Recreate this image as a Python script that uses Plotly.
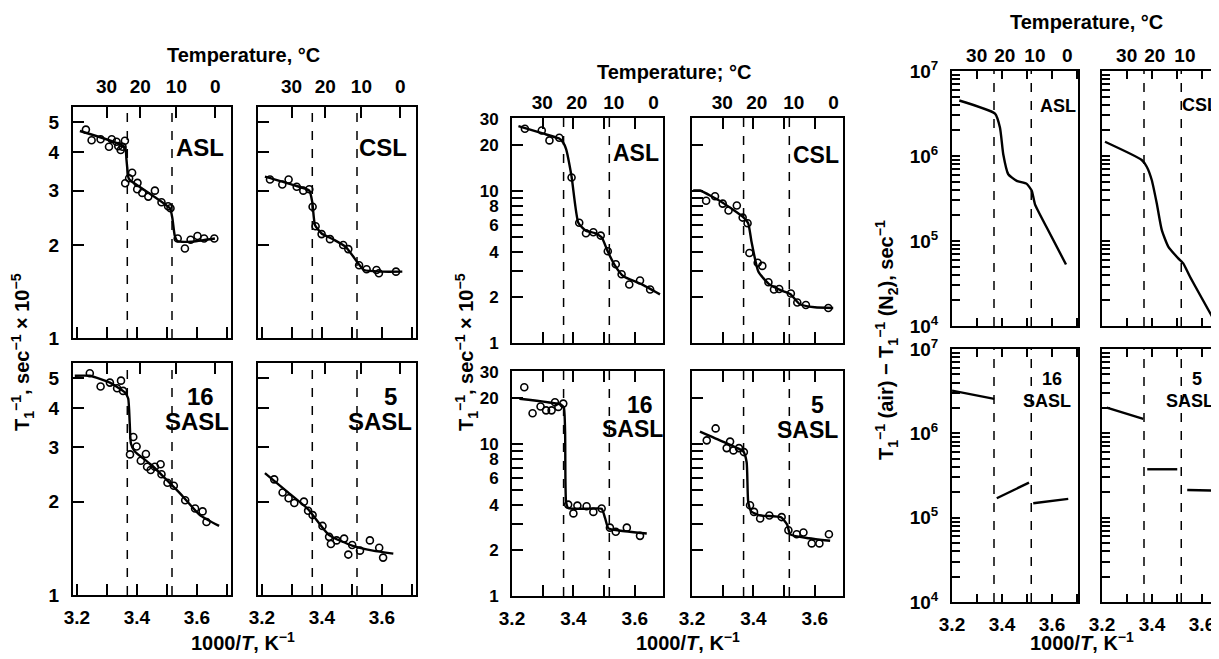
import plotly.graph_objects as go

# the page adds an 8 px body margin, so the figure is drawn 8 px smaller and positions are
# given in page pixels minus that offset
PAGE_W, PAGE_H, OFF = 1219, 659, 8
W, H = PAGE_W - OFF, PAGE_H - OFF
FONT = "Liberation Sans"

# phase transitions, 1000/T (K^-1), drawn as dashed lines
TRANSITIONS = [3.368, 3.517]
# labels of the temperature axis on top, deg C
TEMPS_C = [30, 20, 10, 0]

# ---- left block: T1^-1 (air), sec^-1 x 10^-5 ----
ASL1_PX = [3.230, 3.249, 3.279, 3.307, 3.316, 3.332, 3.338, 3.346, 3.352, 3.360, 3.361, 3.374,
           3.384, 3.402, 3.401, 3.418, 3.438, 3.460, 3.482, 3.504, 3.512, 3.536, 3.560, 3.579,
           3.602, 3.624, 3.658]
ASL1_PY = [4.73, 4.37, 4.40, 4.16, 4.40, 4.32, 4.18, 4.06, 4.16, 4.35, 3.17, 3.29,
           3.43, 3.18, 3.03, 2.95, 2.87, 3.00, 2.75, 2.67, 2.63, 2.10, 1.95, 2.08,
           2.14, 2.10, 2.10]
ASL1_FX = [3.21, 3.36, 3.365, 3.372, 3.378, 3.51, 3.518, 3.526, 3.535, 3.58, 3.66]
ASL1_FY = [4.68, 4.15, 3.80, 3.30, 3.24, 2.63, 2.45, 2.15, 2.06, 2.05, 2.10]

CSL1_PX = [3.227, 3.268, 3.289, 3.316, 3.338, 3.358, 3.369, 3.379, 3.399, 3.427, 3.471, 3.488,
           3.524, 3.549, 3.582, 3.590, 3.647]
CSL1_PY = [3.26, 3.14, 3.26, 3.09, 3.00, 3.03, 2.66, 2.30, 2.17, 2.09, 2.00, 1.94,
           1.72, 1.67, 1.66, 1.62, 1.64]
CSL1_FX = [3.21, 3.30, 3.358, 3.368, 3.377, 3.399, 3.44, 3.48, 3.52, 3.54, 3.60, 3.668]
CSL1_FY = [3.33, 3.14, 3.00, 2.75, 2.32, 2.18, 2.08, 1.97, 1.75, 1.66, 1.64, 1.64]

SASL16_1_PX = [3.243, 3.279, 3.310, 3.334, 3.347, 3.354, 3.377, 3.388, 3.399, 3.413, 3.430,
               3.434, 3.446, 3.460, 3.479, 3.482, 3.502, 3.523, 3.561, 3.594, 3.619, 3.632]
SASL16_1_PY = [5.19, 4.70, 4.84, 4.64, 4.91, 4.55, 2.84, 3.23, 3.01, 2.71, 2.85,
               2.59, 2.53, 2.59, 2.64, 2.45, 2.30, 2.25, 2.02, 1.90, 1.86, 1.72]
SASL16_1_FX = [3.193, 3.243, 3.31, 3.36, 3.371, 3.376, 3.38, 3.393, 3.45, 3.499, 3.543, 3.61, 3.674]
SASL16_1_FY = [5.09, 5.09, 4.84, 4.50, 4.30, 3.60, 3.08, 2.90, 2.62, 2.35, 2.13, 1.81, 1.67]

SASL5_1_PX = [3.241, 3.269, 3.289, 3.308, 3.340, 3.354, 3.369, 3.402, 3.424, 3.430, 3.449,
              3.474, 3.488, 3.501, 3.527, 3.560, 3.591, 3.604]
SASL5_1_PY = [2.36, 2.14, 2.05, 1.98, 2.00, 1.87, 1.81, 1.67, 1.54, 1.46, 1.50,
              1.52, 1.35, 1.45, 1.39, 1.50, 1.42, 1.32]
SASL5_1_FX = [3.21, 3.28, 3.354, 3.424, 3.503, 3.57, 3.638]
SASL5_1_FY = [2.47, 2.17, 1.89, 1.56, 1.44, 1.39, 1.36]

# ---- middle block: T1^-1 (N2), sec^-1 x 10^-5 ----
ASL2_PX = [3.242, 3.297, 3.322, 3.354, 3.394, 3.419, 3.441, 3.465, 3.489, 3.512, 3.538, 3.557,
           3.582, 3.617, 3.650]
ASL2_PY = [25.8, 25.1, 21.6, 22.5, 12.3, 6.2, 5.28, 5.36, 5.10, 4.02, 3.30, 2.84,
           2.43, 2.58, 2.25]
ASL2_FX = [3.221, 3.30, 3.354, 3.366, 3.376, 3.394, 3.416, 3.44, 3.47, 3.492, 3.512, 3.535, 3.563, 3.62, 3.682]
ASL2_FY = [26.8, 24.0, 22.2, 21.0, 19.0, 12.5, 6.2, 5.5, 5.3, 4.97, 4.0, 3.25, 2.75, 2.45, 2.09]

CSL2_PX = [3.246, 3.275, 3.300, 3.319, 3.346, 3.365, 3.381, 3.387, 3.414, 3.429, 3.449, 3.467,
           3.484, 3.522, 3.543, 3.571, 3.644]
CSL2_PY = [8.65, 9.25, 8.28, 7.46, 8.04, 6.70, 6.15, 3.92, 3.38, 3.22, 2.51, 2.25,
           2.27, 2.12, 1.85, 1.78, 1.70]
CSL2_FX = [3.204, 3.226, 3.30, 3.365, 3.383, 3.394, 3.416, 3.45, 3.49, 3.52, 3.551, 3.60, 3.66]
CSL2_FY = [10.1, 10.1, 8.4, 6.8, 6.15, 4.62, 2.96, 2.45, 2.22, 2.10, 1.80, 1.72, 1.70]

SASL16_2_PX = [3.240, 3.267, 3.293, 3.311, 3.329, 3.340, 3.351, 3.367, 3.383, 3.400, 3.413,
               3.443, 3.465, 3.492, 3.519, 3.538, 3.574, 3.617]
SASL16_2_PY = [23.7, 16.0, 17.7, 16.7, 16.7, 18.9, 17.6, 18.5, 4.00, 3.50, 3.94,
               3.90, 3.58, 3.77, 2.82, 2.65, 2.82, 2.49]
SASL16_2_FX = [3.224, 3.36, 3.369, 3.373, 3.376, 3.383, 3.45, 3.492, 3.503, 3.514, 3.55, 3.639]
SASL16_2_FY = [19.9, 18.2, 17.4, 12.0, 4.20, 3.80, 3.76, 3.75, 3.27, 2.79, 2.70, 2.58]

SASL5_2_PX = [3.248, 3.277, 3.313, 3.324, 3.335, 3.353, 3.369, 3.389, 3.402, 3.422, 3.452,
              3.492, 3.514, 3.541, 3.563, 3.590, 3.615, 3.646]
SASL5_2_PY = [10.6, 12.7, 9.42, 10.4, 9.10, 9.42, 8.87, 3.96, 3.58, 3.24, 3.39,
              3.31, 2.71, 2.55, 2.62, 2.22, 2.22, 2.55]
SASL5_2_FX = [3.226, 3.30, 3.367, 3.378, 3.383, 3.393, 3.42, 3.49, 3.51, 3.52, 3.58, 3.65]
SASL5_2_FY = [12.1, 10.4, 8.97, 7.6, 4.2, 3.6, 3.4, 3.3, 2.95, 2.55, 2.40, 2.31]

# ---- right block: T1^-1 (air) - T1^-1 (N2), sec^-1 (None = break in the line) ----
ASL3_X = [3.229, 3.372, 3.392, 3.405, 3.425, 3.459, 3.499, 3.519, 3.532, 3.579, 3.656]
ASL3_Y = [4.5e6, 3.15e6, 2.15e6, 1.05e6, 6.1e5, 5.1e5, 4.7e5, 3.9e5, 2.7e5, 1.44e5, 5.3e4]

CSL3_X = [3.212, 3.359, 3.379, 3.399, 3.419, 3.439, 3.465, 3.505, 3.525, 3.552, 3.652]
CSL3_Y = [1.47e6, 8.97e5, 7.48e5, 5.22e5, 2.78e5, 1.35e5, 8.6e4, 6.25e4, 5.46e4, 3.8e4, 1.12e4]

SASL16_3_X = [3.200, 3.369, None, 3.379, 3.508, None, 3.525, 3.665]
SASL16_3_Y = [3.21e6, 2.56e6, None, 1.70e5, 2.60e5, None, 1.48e5, 1.67e5]

SASL5_3_X = [3.219, 3.365, None, 3.381, 3.501, None, 3.541, 3.668]
SASL5_3_Y = [2.02e6, 1.48e6, None, 3.75e5, 3.75e5, None, 2.13e5, 2.09e5]

# block geometry in page pixels: column x-extents, row y-extents, 1000/T at left edge, px per unit
BLOCKS = {
    1: dict(cols=[(73, 231), (258, 416)], rows=[(107, 338), (363, 595)], x0=3.187, scale=300,
            yr=[[0, 0.748], [0, 0.748]], ticklen=11, yfont=19),
    2: dict(cols=[(512, 663), (692, 843)], rows=[(118, 343), (371, 596)], x0=3.2, scale=307,
            yr=[[0, 1.482], [0, 1.482]], ticklen=11, yfont=17),
    3: dict(cols=[(952, 1078), (1102, 1219)], rows=[(71, 326), (349, 602)], x0=3.2, scale=250,
            yr=[[4, 7], [4, 7]], ticklen=8, yfont=19),
}

# (block, col, row, points x, points y, line x, line y)
PANELS = [
    (1, 0, 0, ASL1_PX, ASL1_PY, ASL1_FX, ASL1_FY),
    (1, 1, 0, CSL1_PX, CSL1_PY, CSL1_FX, CSL1_FY),
    (1, 0, 1, SASL16_1_PX, SASL16_1_PY, SASL16_1_FX, SASL16_1_FY),
    (1, 1, 1, SASL5_1_PX, SASL5_1_PY, SASL5_1_FX, SASL5_1_FY),
    (2, 0, 0, ASL2_PX, ASL2_PY, ASL2_FX, ASL2_FY),
    (2, 1, 0, CSL2_PX, CSL2_PY, CSL2_FX, CSL2_FY),
    (2, 0, 1, SASL16_2_PX, SASL16_2_PY, SASL16_2_FX, SASL16_2_FY),
    (2, 1, 1, SASL5_2_PX, SASL5_2_PY, SASL5_2_FX, SASL5_2_FY),
    (3, 0, 0, None, None, ASL3_X, ASL3_Y),
    (3, 1, 0, None, None, CSL3_X, CSL3_Y),
    (3, 0, 1, None, None, SASL16_3_X, SASL16_3_Y),
    (3, 1, 1, None, None, SASL5_3_X, SASL5_3_Y),
]

Y_TICKS = {
    1: ([1, 2, 3, 4, 5], ['1', '2', '3', '4', '5']),
    2: ([1, 2, 3, 4, 5, 6, 7, 8, 9, 10, 20, 30],
        ['1', '2', '', '4', '', '6', '', '8', '', '10', '20', '30']),
    3: ([m * 10 ** k for k in (4, 5, 6) for m in range(1, 10)] + [1e7],
        [('10<sup>%d</sup>' % k if m == 1 else '') for k in (4, 5, 6) for m in range(1, 10)]
        + ['10<sup>7</sup>']),
}

# panel labels: (text, x px, y px, size)
LABELS = [
    ('ASL', 200, 147, 24), ('CSL', 383, 147, 24),
    ('16', 200, 396, 24), ('SASL', 197, 421, 24), ('5', 390, 396, 24), ('SASL', 380, 421, 24),
    ('ASL', 636, 153, 23), ('CSL', 816, 155, 23),
    ('16', 640, 405, 23), ('SASL', 632, 429, 23), ('5', 817, 405, 23), ('SASL', 807, 430, 23),
    ('ASL', 1058, 106, 18), ('CSL', 1200, 105, 18),
    ('16', 1052, 379, 18), ('SASL', 1047, 401, 18), ('5', 1197, 379, 18), ('SASL', 1190, 401, 18),
]


def px(x):
    return (x - OFF) / W


def py(y):
    return 1 - (y - OFF) / H


def text_note(text, x, y, size, angle=0):
    return dict(text=text, x=px(x), y=py(y), xref='paper', yref='paper', showarrow=False,
                xanchor='center', yanchor='middle', textangle=angle,
                font=dict(family=FONT, size=size, color='black', weight='bold'))


fig = go.Figure()
layout = dict(width=W, height=H, margin=dict(l=0, r=0, t=0, b=0, autoexpand=False),
              paper_bgcolor='white', plot_bgcolor='white', showlegend=False)
shapes, annotations = [], []
temp_vals = [1000 / (t + 273.15) for t in TEMPS_C]
n_top = len(PANELS)

for i, (blk, col, row, ptx, pty, fx, fy) in enumerate(PANELS):
    n = i + 1
    g = BLOCKS[blk]
    (c0, c1), (r0, r1) = g['cols'][col], g['rows'][row]
    c1 = min(c1, PAGE_W)
    xr = [g['x0'], g['x0'] + (c1 - c0) / g['scale']]
    xid = 'x' if n == 1 else 'x%d' % n
    yid = 'y' if n == 1 else 'y%d' % n
    tick_font = dict(family=FONT, size=19, color='black', weight='bold')

    mirror_ticks = blk != 1
    layout['xaxis' + ('' if n == 1 else str(n))] = dict(
        domain=[px(c0), min(px(c1), 1)], anchor=yid, range=xr, automargin=False,
        tickvals=[3.2, 3.3, 3.4, 3.5, 3.6, 3.7], ticktext=['3.2', '', '3.4', '', '3.6', ''],
        showticklabels=(row == 1),
        ticks='inside', ticklen=g['ticklen'], tickwidth=2, tickcolor='black',
        showline=True, linewidth=2, linecolor='black',
        mirror='allticks' if mirror_ticks else False,
        showgrid=False, zeroline=False, tickfont=tick_font, ticklabelstandoff=4)

    # temperature scale on top
    top_n = n + n_top
    layout['xaxis%d' % top_n] = dict(
        overlaying=xid, anchor=yid, side='top', range=xr, automargin=False,
        tickvals=temp_vals, ticktext=[str(t) for t in TEMPS_C], showticklabels=(row == 0),
        ticks='' if mirror_ticks else 'inside', ticklen=g['ticklen'], tickwidth=2,
        tickcolor='black', showline=not mirror_ticks, linewidth=2, linecolor='black',
        showgrid=False, zeroline=False, tickfont=tick_font, ticklabelstandoff=4)

    yv, yt = Y_TICKS[blk]
    cut = blk == 3 and col == 1
    layout['yaxis' + ('' if n == 1 else str(n))] = dict(
        domain=[py(r1), py(r0)], anchor=xid, type='log', range=g['yr'][row], automargin=False,
        tickvals=yv, ticktext=yt, showticklabels=(col == 0),
        ticks='inside', ticklen=g['ticklen'], tickwidth=2, tickcolor='black',
        showline=True, linewidth=2, linecolor='black', mirror=not cut,
        showgrid=False, zeroline=False, tickfont=dict(tick_font, size=g['yfont']),
        ticklabelstandoff=8)

    # invisible trace so the top axis is drawn
    fig.add_trace(go.Scatter(x=[xr[0]], y=[None], xaxis='x%d' % top_n, yaxis=yid,
                             mode='markers', hoverinfo='skip', marker=dict(opacity=0)))

    fig.add_trace(go.Scatter(x=fx, y=fy, xaxis=xid, yaxis=yid, mode='lines',
                             line=dict(color='black', width=2.4, shape='spline', smoothing=0.5),
                             connectgaps=False, hoverinfo='skip'))
    if ptx is not None:
        fig.add_trace(go.Scatter(x=ptx, y=pty, xaxis=xid, yaxis=yid, mode='markers',
                                 marker=dict(symbol='circle-open', size=7, color='black',
                                             line=dict(width=1.6, color='black')),
                                 hoverinfo='skip'))

    for t in TRANSITIONS:
        shapes.append(dict(type='line', xref=xid, yref=yid + ' domain', x0=t, x1=t, y0=0, y1=1,
                           line=dict(color='black', width=1.5, dash='dash')))

for text, x, y, size in LABELS:
    annotations.append(text_note(text, x, y, size))

for text, x, y in [('Temperature, °C', 243, 55), ('Temperature; °C', 674, 72),
                   ('Temperature, °C', 1086, 22),
                   ('1000/<i>T</i>, K<sup>−1</sup>', 243, 641),
                   ('1000/<i>T</i>, K<sup>−1</sup>', 688, 641),
                   ('1000/<i>T</i>, K<sup>−1</sup>', 1082, 641)]:
    annotations.append(text_note(text, x, y, 20))

for text, x, y in [('T<sub>1</sub><sup>−1</sup>, sec<sup>−1</sup> × 10<sup>−5</sup>', 22, 352),
                   ('T<sub>1</sub><sup>−1</sup>, sec<sup>−1</sup> × 10<sup>−5</sup>', 466, 352),
                   ('T<sub>1</sub><sup>−1</sup> (air) − T<sub>1</sub><sup>−1</sup> (N<sub>2</sub>), sec<sup>−1</sup>',
                    886, 340)]:
    annotations.append(text_note(text, x, y, 20, angle=-90))

layout['shapes'] = shapes
layout['annotations'] = annotations
fig.update_layout(**layout)

fig.write_html("out.html")
